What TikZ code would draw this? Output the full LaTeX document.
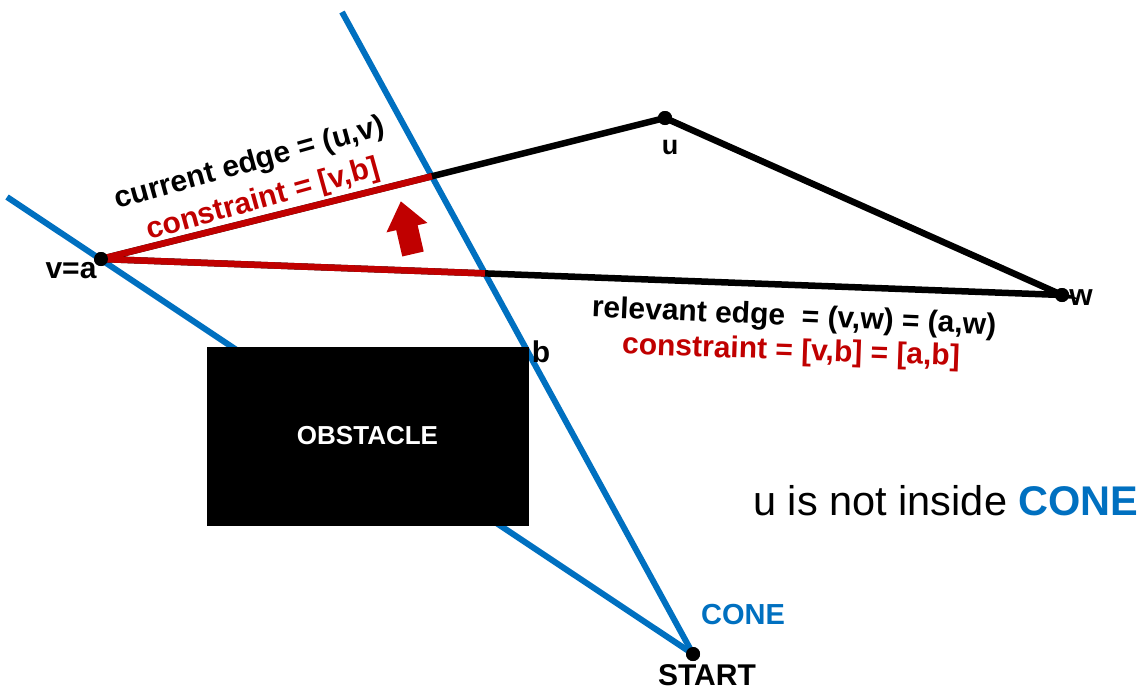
\documentclass[tikz,border=0pt]{standalone}
\usepackage{fontspec}
\setmainfont{Liberation Sans}
\definecolor{coneblue}{HTML}{0070C0}
\definecolor{cred}{HTML}{C00000}
\tikzset{
  cone/.style={draw=coneblue, line width=6pt},
  edge/.style={draw=black, line width=6.5pt},
  cedge/.style={draw=cred, line width=6.5pt},
  vtx/.style={circle, fill=black, inner sep=0pt, minimum size=14pt},
  lbl/.style={font=\fontsize{30}{32}\selectfont\bfseries, inner sep=0pt},
}
\begin{document}
\begin{tikzpicture}[x=1pt, y=-1pt]
\useasboundingbox (0,0) rectangle (1144,691);

% vertices
\coordinate (vtop) at (342,12);
\coordinate (vleft) at (7,197);
\node[vtx] (start) at (693,654) {};
\node[vtx] (v) at (101,259) {};
\node[vtx] (u) at (665,118) {};
\node[vtx] (w) at (1062,295) {};

% cone boundaries
\draw[cone] (vleft) -- (start.center);
\draw[cone] (vtop) -- (start.center);

% polygon edges
\draw[edge] (v.center) -- (u.center) -- (w.center) -- (v.center);

% constraint segments up to the cone boundary
\coordinate (bu) at (intersection of v--u and vtop--start);
\coordinate (bw) at (intersection of v--w and vtop--start);
\draw[cedge] (v.center) -- (bu);
\draw[cedge] (v.center) -- (bw);

% vertex dots on top
\foreach \p in {v,u,w,start} \fill (\p) circle (7);

% obstacle
\node[fill=black, minimum width=322pt, minimum height=179pt, inner sep=0pt,
      text=white, font=\fontsize{26}{28}\selectfont\bfseries] (obs) at (367.5,436) {OBSTACLE};

% direction arrow
\begin{scope}[shift={(413,254)}, rotate=13]
  \fill[cred] (-11,0) -- (11,0) -- (11,-27) -- (21,-27) -- (0,-54) -- (-21,-27) -- (-11,-27) -- cycle;
\end{scope}

% labels
\node[lbl, rotate=15.5] (ce) at (250,164) {current edge = (u,v)};
\node[lbl, rotate=15.5, text=cred] (cc) at (263,200) {constraint = [v,b]};
\node[lbl, rotate=-2.5] (re) at (794,318) {relevant edge \ = (v,w) = (a,w)};
\node[lbl, rotate=-2, text=cred] (rc) at (791,352) {constraint = [v,b] = [a,b]};
\node[lbl] (lb) at (541,352) {b};
\node[lbl] (lva) at (71,271) {v=a};
\node[lbl, font=\fontsize{27}{29}\selectfont\bfseries] (lu) at (670,147) {u};
\node[lbl] (lw) at (1081,298) {w};
\node[lbl, font=\fontsize{29}{31}\selectfont\bfseries, text=coneblue] (lcone) at (743,615) {CONE};
\node[lbl] (lstart) at (707,675) {START};
\node[inner sep=0pt, font=\fontsize{41.5}{44}\selectfont] (note) at (946,501)
  {u is not inside \textbf{\color{coneblue}CONE}};
\end{tikzpicture}
\end{document}
